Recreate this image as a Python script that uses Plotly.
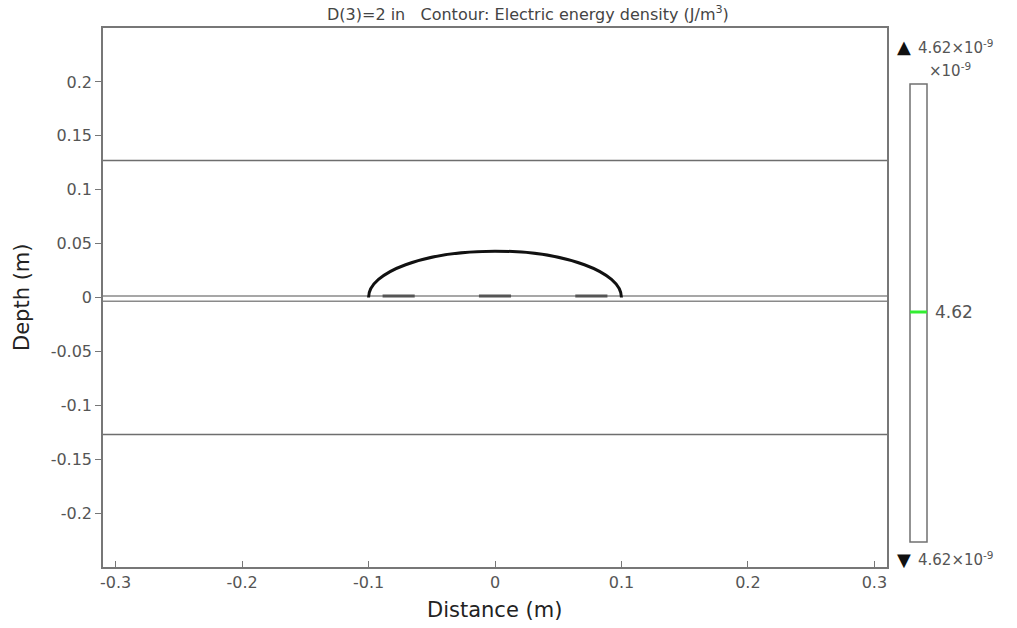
import plotly.graph_objects as go

# ---- data ----
x_range = [-0.31, 0.31]
y_range = [-0.25, 0.25]
x_ticks = [-0.3, -0.2, -0.1, 0, 0.1, 0.2, 0.3]
x_ticklabels = ["-0.3", "-0.2", "-0.1", "0", "0.1", "0.2", "0.3"]
y_ticks = [-0.2, -0.15, -0.1, -0.05, 0, 0.05, 0.1, 0.15, 0.2]
y_ticklabels = ["-0.2", "-0.15", "-0.1", "-0.05", "0", "0.05", "0.1", "0.15", "0.2"]

layer_lines_y = [0.127, -0.127]          # boundary lines
ground_lines_y = [0.0015, -0.0035]       # double surface line
electrode_centers = [-0.0762, 0.0, 0.0762]
electrode_width = 0.0254
arc_half_width = 0.1
arc_height = 0.043
contour_level = 4.62  # x 1e-9 J/m^3

FONT = "DejaVu Sans"

# plot-area pixel geometry (screen coords) used for paper placement
PL, PR, PT, PB = 103, 887, 28, 567
W, H = 1017, 628
def px(xp):
    return (xp - PL) / (PR - PL)
def py(yp):
    return (PB - yp) / (PB - PT)

fig = go.Figure()

for yv in layer_lines_y:
    fig.add_trace(go.Scatter(x=x_range, y=[yv, yv], mode="lines",
                             line=dict(color="#6e6e6e", width=1.5),
                             hoverinfo="skip", showlegend=False))
for yv in ground_lines_y:
    fig.add_trace(go.Scatter(x=x_range, y=[yv, yv], mode="lines",
                             line=dict(color="#8a8a8a", width=1.5),
                             hoverinfo="skip", showlegend=False))
for c in electrode_centers:
    fig.add_trace(go.Scatter(x=[c - electrode_width / 2, c + electrode_width / 2],
                             y=[ground_lines_y[0], ground_lines_y[0]], mode="lines",
                             line=dict(color="#555555", width=3),
                             hoverinfo="skip", showlegend=False))

# contour arc (half ellipse) as bezier path
k = 0.5523
a, b = arc_half_width, arc_height
path = (f"M {-a},0 C {-a},{k*b} {-k*a},{b} 0,{b} "
        f"C {k*a},{b} {a},{k*b} {a},0")
fig.add_shape(type="path", path=path, xref="x", yref="y",
              line=dict(color="#111111", width=3))

# ---- colorbar drawn in paper coordinates ----
fig.add_shape(type="rect", xref="paper", yref="paper",
              x0=px(910), x1=px(927), y0=py(542), y1=py(84),
              line=dict(color="#707070", width=1.5), fillcolor="white")
fig.add_shape(type="line", xref="paper", yref="paper",
              x0=px(910), x1=px(927), y0=py(312), y1=py(312),
              line=dict(color="#33ee33", width=3))

lab = f"{contour_level:.2f}×10<sup>-9</sup>"
cb_font = dict(size=15, color="#555", family=FONT)
fig.add_annotation(xref="paper", yref="paper", x=px(904), y=py(47),
                   xanchor="center", yanchor="middle", showarrow=False,
                   text="▲", font=dict(size=18, color="#111", family=FONT))
fig.add_annotation(xref="paper", yref="paper", x=px(916), y=py(47),
                   xanchor="left", yanchor="middle", showarrow=False,
                   text=lab, font=cb_font)
fig.add_annotation(xref="paper", yref="paper", x=px(927), y=py(70),
                   xanchor="left", yanchor="middle", showarrow=False,
                   text="×10<sup>-9</sup>", font=cb_font)
fig.add_annotation(xref="paper", yref="paper", x=px(933), y=py(312),
                   xanchor="left", yanchor="middle", showarrow=False,
                   text=f"{contour_level:.2f}", font=dict(size=17, color="#555", family=FONT))
fig.add_annotation(xref="paper", yref="paper", x=px(904), y=py(559),
                   xanchor="center", yanchor="middle", showarrow=False,
                   text="▼", font=dict(size=18, color="#111", family=FONT))
fig.add_annotation(xref="paper", yref="paper", x=px(916), y=py(559),
                   xanchor="left", yanchor="middle", showarrow=False,
                   text=lab, font=cb_font)

# title
fig.add_annotation(xref="paper", yref="paper", x=px(528), y=py(14),
                   xanchor="center", yanchor="middle", showarrow=False,
                   text="D(3)=2 in   Contour: Electric energy density (J/m<sup>3</sup>)",
                   font=dict(size=16, color="#444", family=FONT))

# axis titles
fig.add_annotation(xref="paper", yref="paper", x=px(494), y=py(610),
                   xanchor="center", yanchor="middle", showarrow=False,
                   text="Distance (m)", font=dict(size=21, color="#222", family=FONT))
fig.add_annotation(xref="paper", yref="paper", x=px(22), y=py(298),
                   xanchor="center", yanchor="middle", showarrow=False, textangle=-90,
                   text="Depth (m)", font=dict(size=21, color="#222", family=FONT))

fig.update_layout(
    width=W, height=H,
    margin=dict(l=PL, r=W - PR, t=PT, b=H - PB),
    paper_bgcolor="white", plot_bgcolor="white",
    xaxis=dict(range=x_range, tickvals=x_ticks, ticktext=x_ticklabels,
               ticks="inside", ticklen=6, tickcolor="#777",
               showgrid=False, zeroline=False, showline=True, mirror=True,
               linecolor="#777", linewidth=1.5,
               tickfont=dict(size=16, color="#555", family=FONT)),
    yaxis=dict(range=y_range, tickvals=y_ticks, ticktext=y_ticklabels,
               ticks="outside", ticklen=6, tickcolor="#777",
               showgrid=False, zeroline=False, showline=True, mirror=True,
               linecolor="#777", linewidth=1.5,
               tickfont=dict(size=16, color="#555", family=FONT)),
)

# remove the page's default 8px body margin so the figure fills the window
fig.write_html("out.html",
               config={"displayModeBar": False},
               post_script="document.body.style.margin='0';document.body.style.overflow='hidden';")
